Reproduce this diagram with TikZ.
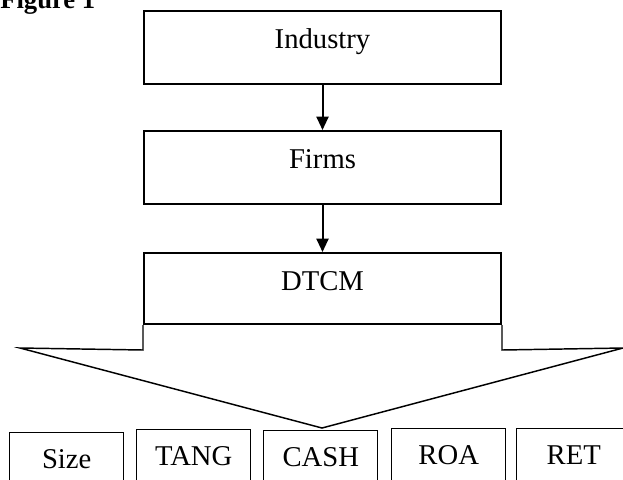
\documentclass[tikz,border=0pt]{standalone}
\usepackage{fontspec}
\setmainfont{Liberation Serif}
\usetikzlibrary{arrows.meta}
\begin{document}
\begin{tikzpicture}[x=0.75pt,y=-0.75pt,
  topbox/.style={draw,line width=1.5pt,anchor=north west,inner sep=0pt,
    minimum width=267.75pt,text height=27.75pt,text depth=27pt,
    font=\fontsize{21.5pt}{24pt}\selectfont},
  botbox/.style={draw,line width=1.1pt,anchor=north west,inner sep=0pt,
    minimum width=85.5pt,text height=27pt,text depth=32pt,
    font=\fontsize{21.5pt}{24pt}\selectfont},
  conn/.style={line width=1.5pt,-{Triangle[width=9pt,length=10pt]}},
  bigarrow/.style={line width=1.1pt,line join=miter}]
\useasboundingbox (0,0) rectangle (623,479);
\clip (0,0) rectangle (623,479);
\node[anchor=base west,inner sep=0pt,font=\bfseries\fontsize{20pt}{22pt}\selectfont] (fig) at (0,8) {Figure 1};
\node[topbox] (ind) at (143,10) {Industry};
\node[topbox] (firms) at (143,130) {Firms};
\node[topbox,text depth=25.5pt] (dtcm) at (143,252) {DTCM};
\draw[conn] (ind.south) -- (firms.north);
\draw[conn] (firms.south) -- (dtcm.north);
\coordinate (tipL) at (20,348);
\coordinate (tip) at (322,428);
\coordinate (tipR) at (623,348);
\draw[bigarrow] (dtcm.south west) -- ++(0,25) -- (tipL) -- (tip) -- (tipR) -- ([yshift=-18.75pt]dtcm.south east) -- (dtcm.south east);
\node[botbox] (size) at (9,432) {Size};
\node[botbox] (tang) at (136,429) {TANG};
\node[botbox] (cash) at (263,430) {CASH};
\node[botbox] (roa) at (391,428) {ROA};
\node[botbox] (ret) at (516,428) {RET};
\end{tikzpicture}
\end{document}
